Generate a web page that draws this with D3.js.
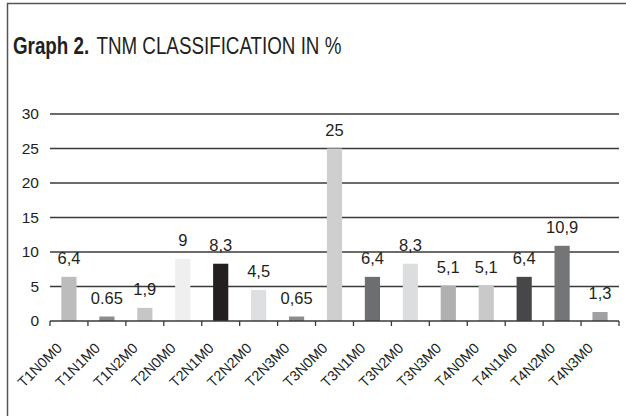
<!DOCTYPE html>
<html>
<head>
<meta charset="utf-8">
<script src="https://cdn.jsdelivr.net/npm/d3@7"></script>
<style>
  html, body { margin: 0; padding: 0; background: #fff; }
  svg { display: block; font-family: "Liberation Sans", Arial, Helvetica, sans-serif; }
</style>
</head>
<body>
<svg id="chart" width="626" height="416"></svg>
<script>
// TNM stage groups and their share of cases (%)
const categories = ["T1N0M0", "T1N1M0", "T1N2M0", "T2N0M0", "T2N1M0", "T2N2M0", "T2N3M0", "T3N0M0",
                    "T3N1M0", "T3N2M0", "T3N3M0", "T4N0M0", "T4N1M0", "T4N2M0", "T4N3M0"];
const values = [6.4, 0.65, 1.9, 9, 8.3, 4.5, 0.65, 25, 6.4, 8.3, 5.1, 5.1, 6.4, 10.9, 1.3];
const valueLabels = ["6,4", "0.65", "1,9", "9", "8,3", "4,5", "0,65", "25", "6,4", "8,3", "5,1", "5,1", "6,4", "10,9", "1,3"];
const barColors = ["#bcbcbc", "#8c8c8c", "#c6c6c6", "#efefef", "#231f20", "#dedfe0", "#8c8c8c", "#cfcfcf",
                   "#6d6e70", "#dcdddf", "#b0b0b0", "#c9c9c9", "#47474a", "#747577", "#a0a0a2"];
const yTicks = [0, 5, 10, 15, 20, 25, 30];

const svg = d3.select("#chart");
const ink = "#231f20";

// Frame (left and top edges)
svg.append("path")
  .attr("d", "M7.5,416 V3.5 H626")
  .attr("fill", "none")
  .attr("stroke", "#555")
  .attr("stroke-width", 1.5);

// Title: bold lead-in followed by the regular caption, set in a condensed group
const titleGroup = svg.append("g").attr("transform", "translate(13,54) scale(0.8,1)");
const lead = titleGroup.append("text")
  .attr("x", 0).attr("y", 0)
  .attr("font-size", 23.5).attr("font-weight", "bold").attr("fill", ink)
  .text("Graph 2.");
const leadWidth = lead.node().getComputedTextLength();
titleGroup.append("text")
  .attr("x", leadWidth + 9).attr("y", 0)
  .attr("font-size", 23.5).attr("fill", ink)
  .text("TNM CLASSIFICATION IN %");

const plot = { left: 50, right: 619, top: 114, bottom: 321 };

const x = d3.scaleBand()
  .domain(categories)
  .range([plot.left, plot.right])
  .paddingInner(0.6)
  .paddingOuter(0.3);

const y = d3.scaleLinear()
  .domain([0, 30])
  .range([plot.bottom, plot.top]);

// Horizontal gridlines
svg.append("g")
  .selectAll("line")
  .data(yTicks.filter(t => t > 0))
  .join("line")
  .attr("x1", plot.left).attr("x2", plot.right)
  .attr("y1", d => y(d)).attr("y2", d => y(d))
  .attr("stroke", "#3a3a3a")
  .attr("stroke-width", 1.3);

// Y axis labels
const yAxis = d3.axisLeft(y).tickValues(yTicks).tickSize(0).tickPadding(11);
const gy = svg.append("g").attr("transform", `translate(${plot.left},0)`).call(yAxis);
gy.select(".domain").remove();
gy.selectAll("text")
  .attr("font-size", 15.5)
  .attr("font-family", "Liberation Sans, Arial, sans-serif")
  .attr("fill", ink);

// Bars
svg.append("g")
  .selectAll("rect")
  .data(categories)
  .join("rect")
  .attr("x", d => x(d))
  .attr("width", x.bandwidth())
  .attr("y", (d, i) => y(values[i]))
  .attr("height", (d, i) => y(0) - y(values[i]))
  .attr("fill", (d, i) => barColors[i]);

// X axis line with category ticks
const tickPositions = d3.range(categories.length + 1).map(i => plot.left + i * (plot.right - plot.left) / categories.length);
svg.append("line")
  .attr("x1", plot.left).attr("x2", plot.right)
  .attr("y1", y(0)).attr("y2", y(0))
  .attr("stroke", "#3a3a3a").attr("stroke-width", 1.5);
svg.append("g")
  .selectAll("line")
  .data(tickPositions)
  .join("line")
  .attr("x1", d => d).attr("x2", d => d)
  .attr("y1", y(0)).attr("y2", y(0) + 5)
  .attr("stroke", "#3a3a3a").attr("stroke-width", 1.3);

// Category labels, rotated
svg.append("g")
  .selectAll("text")
  .data(categories)
  .join("text")
  .attr("transform", d => `translate(${x(d) + x.bandwidth() / 2 - 6},${y(0) + 28}) rotate(-45)`)
  .attr("text-anchor", "end")
  .attr("font-size", 14.5)
  .attr("fill", ink)
  .text(d => d);

// Value labels above bars
svg.append("g")
  .selectAll("text")
  .data(categories)
  .join("text")
  .attr("x", d => x(d) + x.bandwidth() / 2)
  .attr("y", (d, i) => y(values[i]) - 13)
  .attr("text-anchor", "middle")
  .attr("font-size", 16.5)
  .attr("fill", ink)
  .text((d, i) => valueLabels[i]);
</script>
</body>
</html>
